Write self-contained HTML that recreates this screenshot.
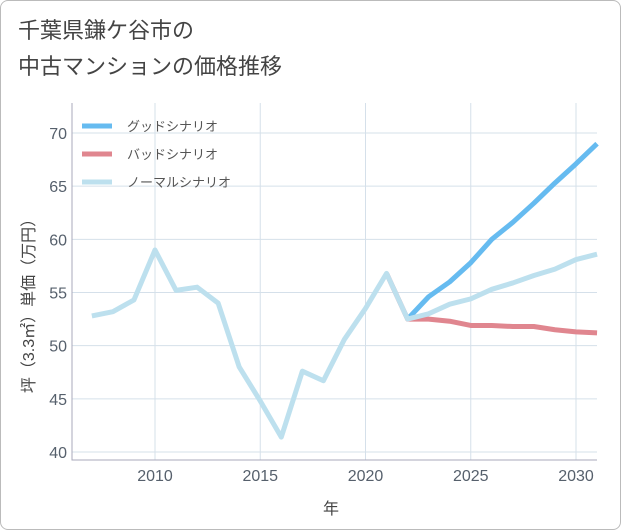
<!DOCTYPE html>
<html><head><meta charset="utf-8"><style>
body{margin:0;background:#fff;font-family:"Liberation Sans","Noto Sans CJK JP",sans-serif;}
#frame{position:absolute;left:0;top:0;width:619px;height:528px;border:1px solid #bbb;border-radius:8px;}
</style></head><body>
<div id="frame"></div>
<svg width="621" height="530" style="position:absolute;left:0;top:0" id="chart">
<text x="18" y="38" font-size="22" fill="#444">千葉県鎌ケ谷市の</text>
<text x="18" y="74" font-size="22" fill="#444">中古マンションの価格推移</text>
<g id="grid"></g><g id="series"></g><g id="axes"></g>
<text x="331" y="514" font-size="16" fill="#444" text-anchor="middle">年</text>
<text transform="translate(34,302) rotate(-90)" font-size="16" fill="#444" text-anchor="middle">坪（3.3㎡）単価（万円）</text>
<g>
<line x1="82" y1="126" x2="112" y2="126" stroke="#66bbf0" stroke-width="5"/>
<text x="127" y="131" font-size="13" fill="#555">グッドシナリオ</text>
<line x1="82" y1="154" x2="112" y2="154" stroke="#e0868f" stroke-width="5"/>
<text x="127" y="159" font-size="13" fill="#555">バッドシナリオ</text>
<line x1="82" y1="182" x2="112" y2="182" stroke="#bde0ee" stroke-width="5"/>
<text x="127" y="187" font-size="13" fill="#555">ノーマルシナリオ</text>
</g>
</svg>
<script>
const normalYears=[2007,2008,2009,2010,2011,2012,2013,2014,2015,2016,2017,2018,2019,2020,2021,2022,2023,2024,2025,2026,2027,2028,2029,2030,2031];
const normalValues=[52.8,53.2,54.3,59.0,55.2,55.5,54.0,48.0,44.8,41.4,47.6,46.7,50.6,53.5,56.8,52.5,53.0,53.9,54.4,55.3,55.9,56.6,57.2,58.1,58.6];
const goodYears=[2022,2023,2024,2025,2026,2027,2028,2029,2030,2031];
const goodValues=[52.5,54.6,56.0,57.8,60.0,61.6,63.4,65.3,67.1,69.0];
const badYears=[2021,2022,2023,2024,2025,2026,2027,2028,2029,2030,2031];
const badValues=[56.8,52.5,52.5,52.3,51.9,51.9,51.8,51.8,51.5,51.3,51.2];
const xTicks=[2010,2015,2020,2025,2030];
const yTicks=[40,45,50,55,60,65,70];
const X0=72,X1=597,Y0=103,Y1=460;
const x=v=>155+(v-2010)*21.05;
const y=v=>452-(v-40)*10.633;
const NS="http://www.w3.org/2000/svg";
function mk(t,a,p){const e=document.createElementNS(NS,t);for(const k in a)e.setAttribute(k,a[k]);p.appendChild(e);return e;}
const grid=document.getElementById('grid'),axes=document.getElementById('axes'),ser=document.getElementById('series');
xTicks.forEach(t=>{const l=mk('line',{x1:x(t),x2:x(t),y1:Y0,y2:Y1,stroke:'#d5e0ea'},grid);


const tx=mk('text',{x:x(t),y:481,'font-size':16,fill:'#56606c','text-anchor':'middle'},axes);tx.textContent=t;

});
yTicks.forEach(t=>{const l=mk('line',{x1:X0,x2:X1,y1:y(t),y2:y(t),stroke:'#d5e0ea'},grid);


const tx=mk('text',{x:67,y:y(t)+6,'font-size':16,fill:'#56606c','text-anchor':'end'},axes);tx.textContent=t;

});
const ax=mk('path',{d:`M${X0},${Y0}V${Y1}H${X1}`,fill:'none',stroke:'#aab'},axes);


function line(xs,vs,c,n){const p=mk('polyline',{points:xs.map((v,i)=>x(v)+','+y(vs[i])).join(' '),fill:'none',stroke:c,'stroke-width':5,'stroke-linejoin':'round'},ser);

}
line(badYears,badValues,'#e0868f','bad-scenario-line');
line(goodYears,goodValues,'#66bbf0','good-scenario-line');
line(normalYears,normalValues,'#bde0ee','normal-scenario-line');
</script>
</body></html>
